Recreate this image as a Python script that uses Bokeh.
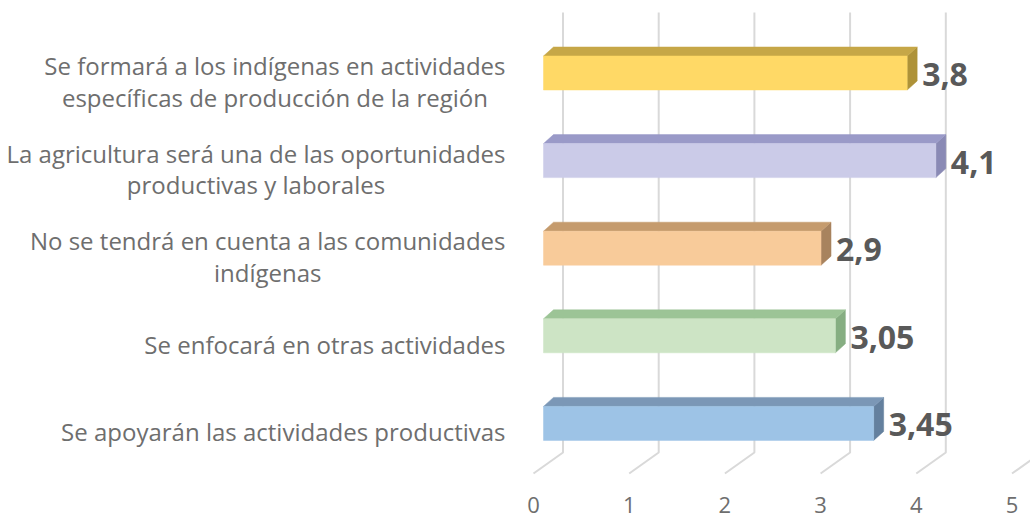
from bokeh.plotting import figure
from bokeh.models import Range1d
from bokeh.core.properties import value
from bokeh.embed import file_html
from bokeh.resources import INLINE

# ---------------- data ----------------
categories = [
    "Se formará a los indígenas en actividades\nespecíficas de producción de la región",
    "La agricultura será una de las oportunidades\nproductivas y laborales",
    "No se tendrá en cuenta a las comunidades\nindígenas",
    "Se enfocará en otras actividades",
    "Se apoyarán las actividades productivas",
]
values = [3.8, 4.1, 2.9, 3.05, 3.45]
value_labels = ["3,8", "4,1", "2,9", "3,05", "3,45"]
tick_values = [0, 1, 2, 3, 4, 5]
tick_labels = ["0", "1", "2", "3", "4", "5"]

front_colors = ["#FFD966", "#CBCBE8", "#F8CB9A", "#CDE4C5", "#9DC3E6"]
top_colors = ["#C6A747", "#9A9AC8", "#C59B6D", "#9CC496", "#7B97B6"]
side_colors = ["#AE9238", "#8A8AB5", "#A8835E", "#86AE82", "#64809E"]

# ---------------- layout (pixels) ----------------
W, H = 1030, 519
PX_X = 95.7            # pixels per value unit
X0 = 543               # pixel of value 0 (bar front face)
PX_Y = 87.6            # pixels per row
Y0 = 72.5              # pixel of first row centre

def xd(px):
    return px / PX_X

def yd(px):
    return px / PX_Y

def ypix(py):  # pixel -> data y
    return (py - Y0) / PX_Y

p = figure(width=W, height=H, output_backend="svg", toolbar_location=None,
           x_axis_type=None, y_axis_type=None,
           x_range=Range1d(-X0 / PX_X, (W - X0) / PX_X),
           y_range=Range1d((H - Y0) / PX_Y, -Y0 / PX_Y),
           min_border=0, min_border_left=0, min_border_right=0,
           min_border_top=0, min_border_bottom=0)
p.outline_line_color = None
p.grid.visible = False
p.background_fill_color = "white"

# ---------------- 3D grid: back wall verticals + floor diagonals ----------------
back_off = xd(19.5)    # back wall offset from bar zero
front_off = xd(-10)    # front floor edge offset
gx, gy = [], []
for v in tick_values:
    gx.append([v + back_off, v + back_off, v + front_off])
    gy.append([ypix(12), ypix(452), ypix(473)])
p.multi_line(xs=gx, ys=gy, line_color="#D9D9D9", line_width=2)

# ---------------- bars ----------------
h = yd(17)
dx = xd(10)
dy = yd(9)
rows = list(range(len(values)))

tops_x, tops_y, sides_x, sides_y = [], [], [], []
for i, v in zip(rows, values):
    t, b = i - h, i + h
    tops_x.append([0, v, v + dx, dx])
    tops_y.append([t, t, t - dy, t - dy])
    sides_x.append([v, v + dx, v + dx, v])
    sides_y.append([t, t - dy, b - dy, b])

p.patches(xs=sides_x, ys=sides_y, fill_color=side_colors, line_color=side_colors, line_width=0.5)
p.patches(xs=tops_x, ys=tops_y, fill_color=top_colors, line_color=top_colors, line_width=0.5)
p.quad(left=[0] * len(values), right=values,
       top=[i - h for i in rows], bottom=[i + h for i in rows],
       fill_color=front_colors, line_color=front_colors, line_width=0.5)

# ---------------- value labels ----------------
p.text(x=[v + dx + xd(5) for v in values], y=[i + yd(1.5) for i in rows], text=value_labels,
       text_font=value("Open Sans"), text_font_style="bold", text_font_size="32px",
       text_color="#595959", text_align="left", text_baseline="middle")

# ---------------- category labels ----------------
p.text(x=[xd(505 - X0)] * len(categories), y=[i + yd(8.5) for i in rows], text=categories,
       text_font=value("Open Sans"), text_font_size="24px", text_color="#6E6E6E",
       text_align="center", text_baseline="middle", anchor=value("center_right"),
       text_line_height=0.96)

# ---------------- x tick labels (front edge of floor) ----------------
p.text(x=[v + front_off for v in tick_values], y=[ypix(504)] * len(tick_values), text=tick_labels,
       text_font=value("Open Sans"), text_font_size="22px", text_color="#6E6E6E",
       text_align="center", text_baseline="middle")

open("out.html", "w").write(file_html(p, INLINE))
